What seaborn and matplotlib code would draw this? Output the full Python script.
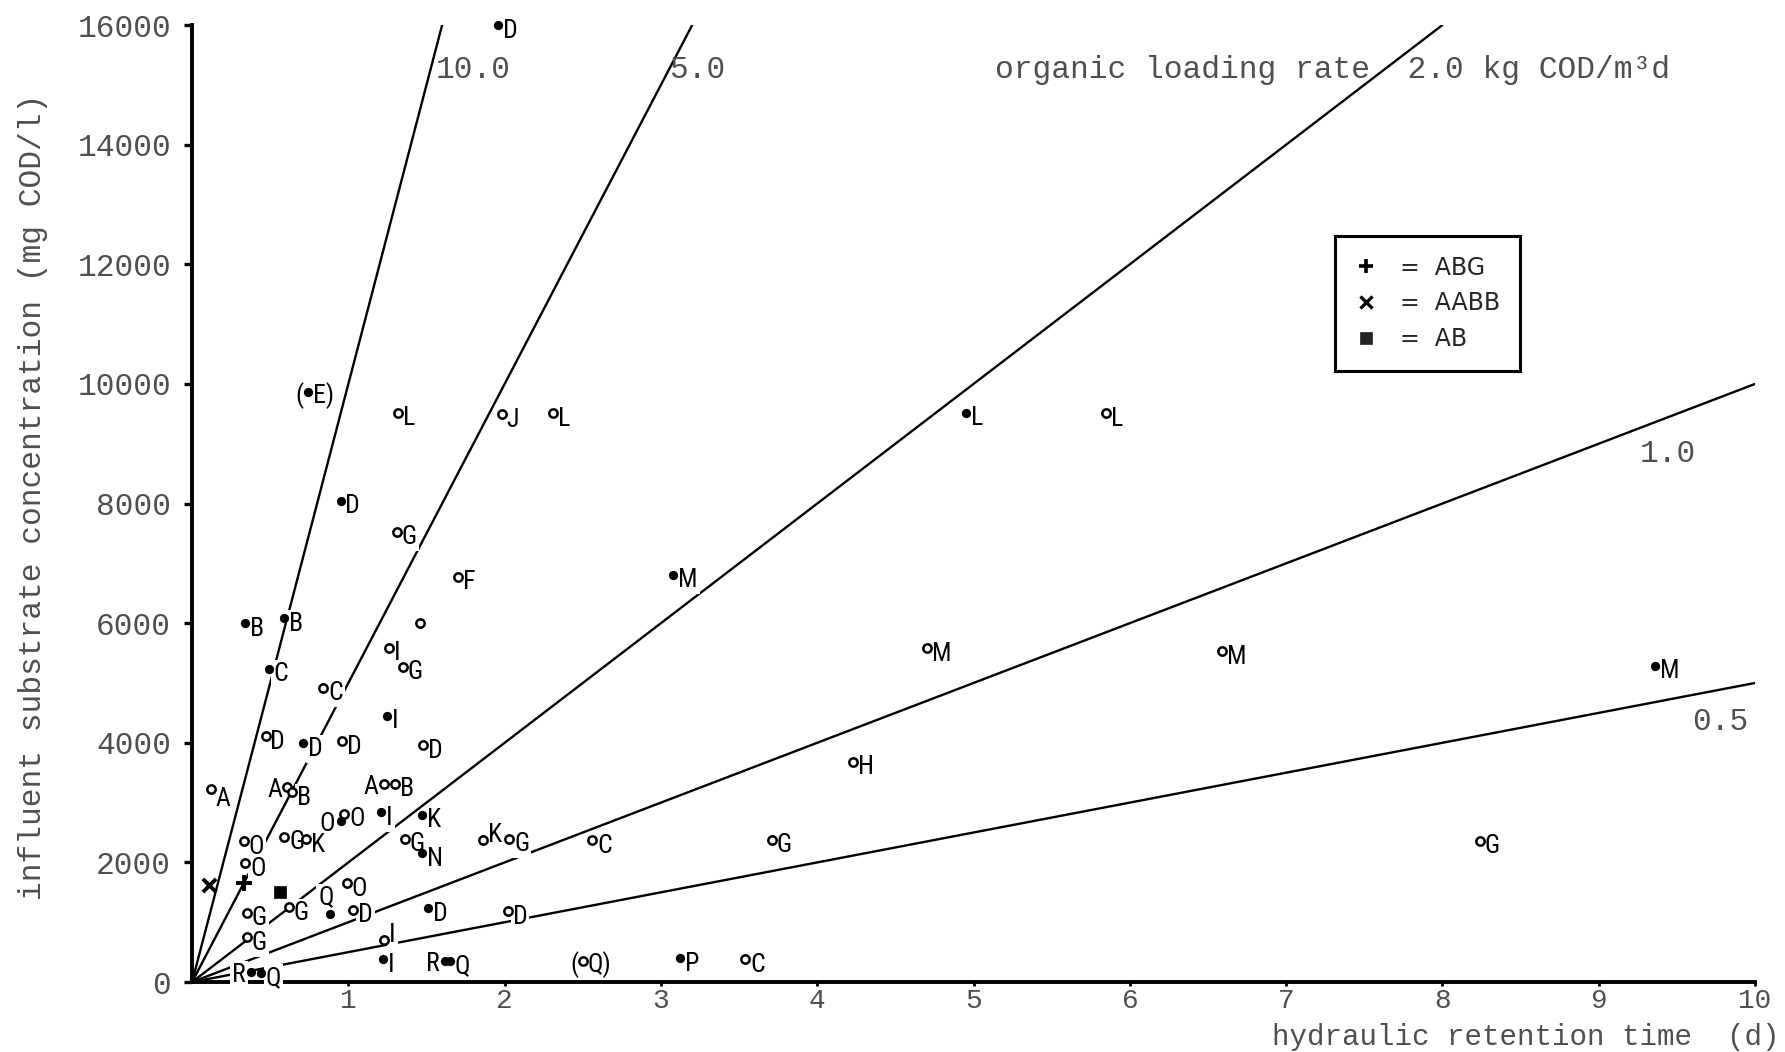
import numpy as np
import pandas as pd
import matplotlib
matplotlib.use("Agg")
import matplotlib.pyplot as plt
from matplotlib import font_manager
from matplotlib.lines import Line2D
import seaborn as sns

# ---------------------------------------------------------------- data
# hydraulic retention time (d) and influent COD (mg COD/l) of each reactor run
hrt = [1.96, 0.74, 1.32, 1.98, 2.31, 4.95, 5.85, 0.95, 1.31, 1.70,
       3.08, 0.34, 0.59, 1.46, 1.26, 1.35, 0.49, 0.84, 1.25, 0.47,
       0.71, 0.96, 1.48, 0.12, 0.61, 0.64, 1.23, 1.30, 0.975, 0.95,
       1.21, 1.47, 0.33, 0.59, 0.73, 1.36, 1.47, 1.86, 2.03, 2.56,
       3.71, 0.34, 0.99, 0.35, 0.62, 0.88, 1.03, 1.51, 2.02, 0.35,
       1.23, 1.22, 0.38, 0.44, 1.62, 1.65, 2.50, 3.12, 3.54, 4.70,
       4.23, 6.59, 9.36, 8.24]
cod = [16000, 9870, 9520, 9490, 9510, 9520, 9510, 8050, 7530, 6780,
       6810, 6000, 6080, 6000, 5590, 5270, 5240, 4920, 4450, 4110,
       3990, 4030, 3960, 3230, 3257, 3170, 3304, 3316, 2813, 2690,
       2836, 2801, 2357, 2427, 2386, 2398, 2152, 2380, 2398, 2370,
       2380, 1990, 1650, 1160, 1250, 1130, 1210, 1235, 1180, 750,
       700, 380, 171, 153, 355, 355, 355, 400, 380, 5580,
       3680, 5530, 5290, 2360]
reactor = ["D", "E", "L", "J", "L", "L", "L", "D", "G", "F",
           "M", "B", "B", "", "I", "G", "C", "C", "I", "D",
           "D", "D", "D", "A", "A", "B", "A", "B", "O", "O",
           "I", "K", "O", "G", "K", "G", "N", "K", "G", "C",
           "G", "O", "O", "G", "G", "Q", "D", "D", "D", "G",
           "I", "I", "R", "Q", "R", "Q", "Q", "P", "C", "M",
           "H", "M", "M", "G"]
filled = [1, 1, 0, 0, 0, 1, 0, 1, 0, 0,
          1, 1, 1, 0, 0, 0, 1, 0, 1, 0,
          1, 0, 0, 0, 0, 0, 0, 0, 0, 1,
          1, 1, 0, 0, 0, 0, 1, 0, 0, 0,
          0, 0, 0, 0, 0, 1, 0, 1, 0, 0,
          0, 1, 1, 1, 1, 1, 0, 1, 0, 0,
          0, 0, 1, 0]
# runs shown in brackets
bracketed = [1, 56]

# mixed-culture runs drawn with their own symbols
mixed_hrt = [0.33, 0.11, 0.565]
mixed_cod = [1660, 1630, 1510]
mixed_name = ["ABG", "AABB", "AB"]

# organic loading rates of the reference lines (kg COD/m3 d)
loading_rates = [10.0, 5.0, 2.0, 1.0, 0.5]

# ---------------------------------------------------------------- label placement
label_side = {23: "below", 24: "left", 26: "left", 29: "left", 37: "upright",
              45: "upleft", 50: "upright", 52: "left", 54: "left"}

# ---------------------------------------------------------------- style
sns.set_style("ticks")
available = {f.name for f in font_manager.fontManager.ttflist}


def pick(*names):
    for n in names:
        if n in available:
            return n
    return "DejaVu Sans"


MONO = pick("Liberation Mono", "DejaVu Sans Mono")
NARROW = pick("Liberation Sans Narrow", "Roboto Condensed", "Liberation Sans", "DejaVu Sans")
plt.rcParams["font.family"] = [MONO, "DejaVu Sans"]
GRAY = "#4f4f4f"
TXT = 22.5

fig = plt.figure(figsize=(17.85, 10.52), dpi=100)
ax = fig.add_axes([0.1076, 0.0665, 0.8756, 0.9097])

df = pd.DataFrame({"hrt": hrt, "cod": cod, "reactor": reactor, "filled": filled})

# loading-rate lines: COD = rate * HRT
for rate in loading_rates:
    x_end = min(10.0, 16.0 / rate)
    line = pd.DataFrame({"x": [0.0, x_end], "y": [0.0, rate * 1000.0 * x_end]})
    sns.lineplot(data=line, x="x", y="y", color="black", lw=1.7, ax=ax,
                 estimator=None, sort=False, zorder=2)

# run points
sns.scatterplot(data=df[df.filled == 0], x="hrt", y="cod", marker="o", s=36,
                color="white", edgecolor="black", linewidth=1.8, ax=ax, zorder=5,
                clip_on=False)
sns.scatterplot(data=df[df.filled == 1], x="hrt", y="cod", marker="o", s=32,
                color="black", edgecolor="black", linewidth=1.0, ax=ax, zorder=5,
                clip_on=False)

# mixed-culture symbols
mix = pd.DataFrame({"hrt": mixed_hrt, "cod": mixed_cod, "name": mixed_name})
mix_markers = {"ABG": "+", "AABB": "x", "AB": "s"}
mix_sizes = {"ABG": 120, "AABB": 90, "AB": 80}
for name, m in mix_markers.items():
    sub = mix[mix.name == name]
    sns.scatterplot(data=sub, x="hrt", y="cod", marker=m, s=mix_sizes[name],
                    color="black", edgecolor="black",
                    linewidth=2.8 if m != "s" else 0.5, ax=ax, zorder=5)

# reactor letters next to the points
box = dict(boxstyle="square,pad=0.08", fc="white", ec="none")
lab_kw = dict(fontsize=18.5, family=[NARROW, "DejaVu Sans"], color="black",
              zorder=3, bbox=box, textcoords="offset points")
for i, (x, y, r) in enumerate(zip(hrt, cod, reactor)):
    if not r:
        continue
    side = label_side.get(i, "right")
    if i in bracketed:
        ax.annotate("(", (x, y), xytext=(-3, -3), ha="right", va="center", **lab_kw)
        ax.annotate(r + ")", (x, y), xytext=(3.5, -3), ha="left", va="center", **lab_kw)
    elif side == "left":
        ax.annotate(r, (x, y), xytext=(-4, -2), ha="right", va="center", **lab_kw)
    elif side == "upleft":
        ax.annotate(r, (x, y), xytext=(-2.5, 3.5), ha="center", va="bottom", **lab_kw)
    elif side == "upright":
        ax.annotate(r, (x, y), xytext=(3.5, 3.5), ha="left", va="center", **lab_kw)
    elif side == "below":
        ax.annotate(r, (x, y), xytext=(3, -7), ha="left", va="center", **lab_kw)
    else:
        ax.annotate(r, (x, y), xytext=(3.5, -4), ha="left", va="center", **lab_kw)

# loading-rate captions
cap_kw = dict(fontsize=TXT, color=GRAY, family=[MONO, "DejaVu Sans"], va="center", ha="left")
ax.text(1.56, 15250, f"{loading_rates[0]:.1f}", **cap_kw)
ax.text(3.05, 15250, f"{loading_rates[1]:.1f}", **cap_kw)
ax.text(5.14, 15250, f"organic loading rate  {loading_rates[2]:.1f} kg COD/m³d", **cap_kw)
ax.text(9.26, 8830, f"{loading_rates[3]:.1f}", **cap_kw)
ax.text(9.60, 4350, f"{loading_rates[4]:.1f}", **cap_kw)

# axes
ax.set_xlim(0, 10)
ax.set_ylim(0, 16000)
ax.set_xticks(range(1, 11))
ax.set_xticklabels([str(v) for v in range(1, 11)])
ax.set_yticks(range(0, 16001, 2000))
ax.set_yticklabels([str(v) for v in range(0, 16001, 2000)])
ax.set_xlabel("")
ax.set_ylabel("")
for s in ["top", "right"]:
    ax.spines[s].set_visible(False)
for s in ["left", "bottom"]:
    ax.spines[s].set_linewidth(2.8)
    ax.spines[s].set_color("black")
ax.tick_params(axis="y", direction="out", length=6, width=2.4, pad=9,
               labelsize=TXT, labelcolor=GRAY, color="black")
ax.tick_params(axis="x", direction="out", length=3, width=2.0, pad=1,
               labelsize=20, labelcolor=GRAY, color="black")
ax.set_facecolor("white")

# legend of the mixed-culture symbols
handles = [
    Line2D([], [], ls="none", marker="+", color="black", markersize=10, mew=2.6),
    Line2D([], [], ls="none", marker="x", color="black", markersize=8, mew=2.4),
    Line2D([], [], ls="none", marker="s", color="#222222", markersize=8, mew=0.5),
]
leg = ax.legend(handles, [f"=  {n}" for n in mixed_name], loc="upper left",
                bbox_to_anchor=(0.731, 0.78), frameon=True, fancybox=False,
                framealpha=1, edgecolor="black", labelspacing=0.5,
                borderpad=0.85, handlelength=1.0, handletextpad=0.9,
                borderaxespad=0, prop={"family": ["DejaVu Sans"], "size": 17})
leg.get_frame().set_linewidth(2.2)
leg.set_zorder(6)

# axis titles
fig.text(0.0185, 0.528, "influent substrate concentration (mg COD/l)", rotation=90,
         ha="center", va="center", fontsize=TXT, color=GRAY, family=[MONO, "DejaVu Sans"])
fig.text(0.997, 0.0005, "hydraulic retention time  (d)", ha="right", va="bottom",
         fontsize=21, color=GRAY, family=[MONO, "DejaVu Sans"])

fig.savefig("out.png", dpi=100, facecolor="white")
